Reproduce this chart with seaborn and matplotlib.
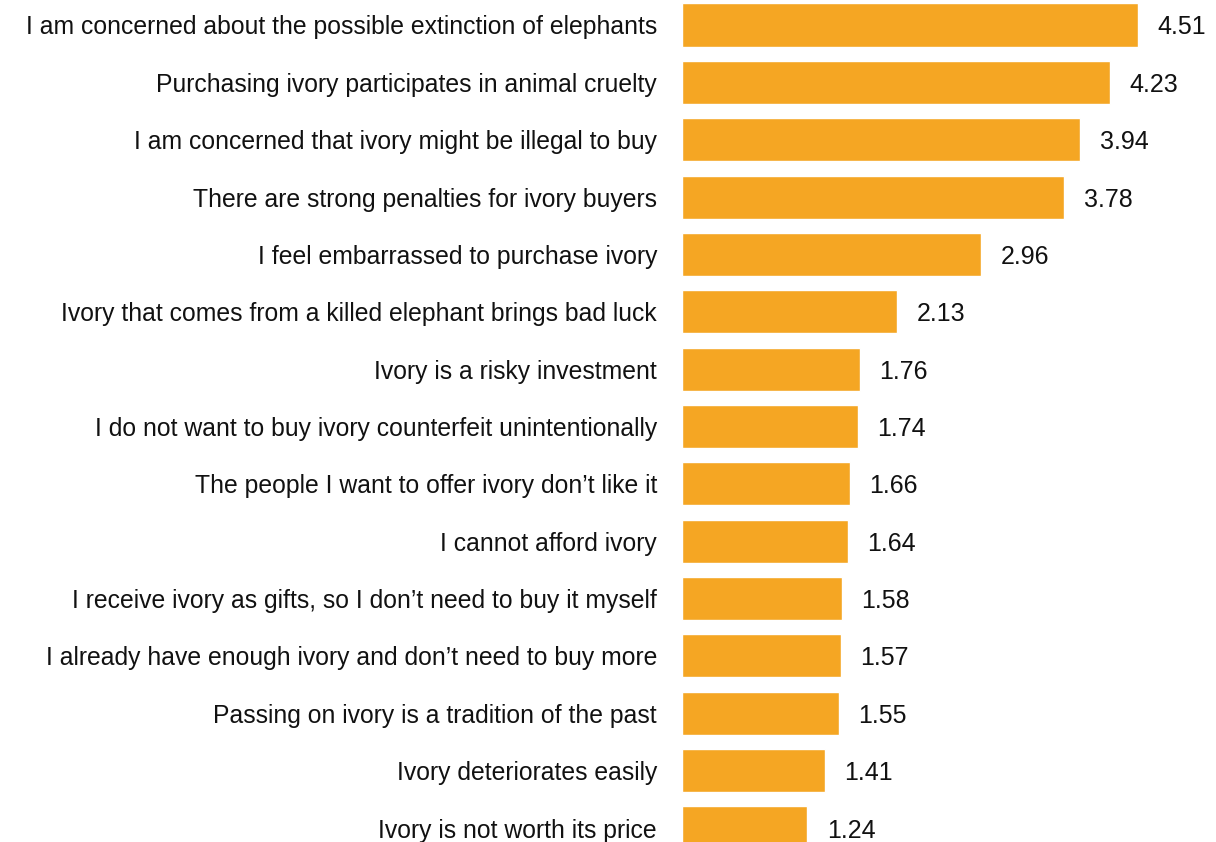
import matplotlib
matplotlib.use("Agg")
import matplotlib.pyplot as plt
import seaborn as sns
import pandas as pd

categories = [
    "I am concerned about the possible extinction of elephants",
    "Purchasing ivory participates in animal cruelty",
    "I am concerned that ivory might be illegal to buy",
    "There are strong penalties for ivory buyers",
    "I feel embarrassed to purchase ivory",
    "Ivory that comes from a killed elephant brings bad luck",
    "Ivory is a risky investment",
    "I do not want to buy ivory counterfeit unintentionally",
    "The people I want to offer ivory don\u2019t like it",
    "I cannot afford ivory",
    "I receive ivory as gifts, so I don\u2019t need to buy it myself",
    "I already have enough ivory and don\u2019t need to buy more",
    "Passing on ivory is a tradition of the past",
    "Ivory deteriorates easily",
    "Ivory is not worth its price",
]
values = [4.51, 4.23, 3.94, 3.78, 2.96, 2.13, 1.76, 1.74, 1.66, 1.64, 1.58, 1.57, 1.55, 1.41, 1.24]

df = pd.DataFrame({"reason": categories, "score": values})

sns.set_theme(style="white")
plt.rcParams['font.family'] = ['Liberation Sans', 'DejaVu Sans']

fig = plt.figure(figsize=(12.16, 8.42), dpi=100)
ax = fig.add_axes([682 / 1216, 0, 1 - 682 / 1216, 1])

sns.barplot(data=df, x="score", y="reason", color="#F5A623", saturation=1,
            width=0.75, ax=ax, orient="h")

ax.set_xlim(0, (1216 - 682) / 101.1)
ax.set_ylim(14 + 14 / 57.36, -25 / 57.36)

for i, v in enumerate(values):
    ax.annotate(f"{v:.2f}", xy=(v, i), xytext=(14, 0), textcoords="offset points",
                ha="left", va="center_baseline", fontsize=18, color="#111111")

ax.set_xlabel("")
ax.set_ylabel("")
ax.set_xticks([])
ax.tick_params(axis="y", length=0, pad=18, labelsize=17.8, labelcolor="#111111")
for lbl in ax.get_yticklabels():
    lbl.set_verticalalignment("center_baseline")
for s in ax.spines.values():
    s.set_visible(False)

fig.savefig("out.png", dpi=100)
